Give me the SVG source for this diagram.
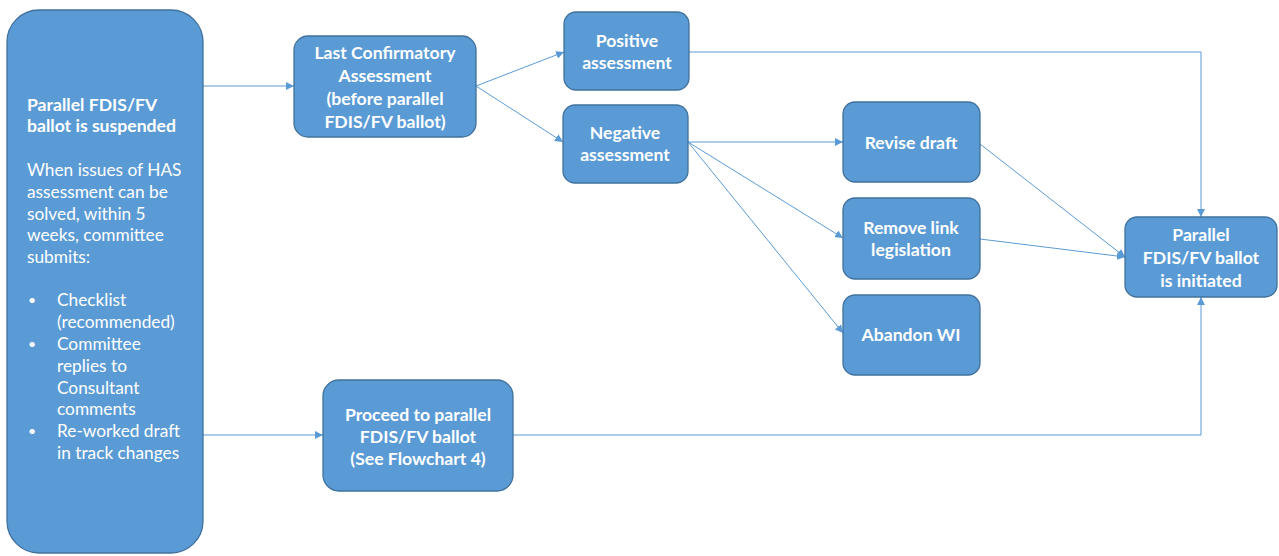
<svg xmlns="http://www.w3.org/2000/svg" width="1279" height="556" viewBox="0 0 1279 556">
<defs>
<style>
.box{fill:#5B9BD5;stroke:#41719C;stroke-width:1.3}
.t{font-family:Lato,"Open Sans","Liberation Sans",sans-serif;font-size:17.3px;fill:#fff}
.b{font-weight:bold;font-size:17.6px}
.c{text-anchor:middle}
.con{fill:none;stroke:#5B9BD5;stroke-width:1}
</style>
<marker id="ah" viewBox="0 0 10 10" refX="10" refY="5" markerWidth="8" markerHeight="8" markerUnits="userSpaceOnUse" orient="auto">
<path d="M0,0 L10,5 L0,10 z" fill="#5B9BD5"/>
</marker>
</defs>
<rect width="1279" height="556" fill="#fff"/>
<g id="connectors">
<path class="con" d="M203,86 L294,86" marker-end="url(#ah)"/>
<path class="con" d="M203,435 L323,435" marker-end="url(#ah)"/>
<path class="con" d="M476,86 L564,52" marker-end="url(#ah)"/>
<path class="con" d="M476,86 L563,142" marker-end="url(#ah)"/>
<path class="con" d="M689,52 L1201,52 L1201,217" marker-end="url(#ah)"/>
<path class="con" d="M688,142 L843,142" marker-end="url(#ah)"/>
<path class="con" d="M688,142 L843,238" marker-end="url(#ah)"/>
<path class="con" d="M688,142 L843,333" marker-end="url(#ah)"/>
<path class="con" d="M980,144 L1125,257" marker-end="url(#ah)"/>
<path class="con" d="M980,239 L1125,257" marker-end="url(#ah)"/>
<path class="con" d="M513,435 L1201,435 L1201,297" marker-end="url(#ah)"/>
</g>
<g id="suspended">
<rect class="box" x="7" y="10" width="196" height="543" rx="32"/>
<text class="t b"><tspan x="27" y="111">Parallel FDIS/FV</tspan><tspan x="27" y="132">ballot is suspended</tspan></text>
<text class="t"><tspan x="27" y="176">When issues of HAS</tspan><tspan x="27" y="198">assessment can be</tspan><tspan x="27" y="220">solved, within 5</tspan><tspan x="27" y="241">weeks, committee</tspan><tspan x="27" y="263">submits:</tspan></text>
<text class="t" style="font-size:14px"><tspan x="28" y="305">•</tspan><tspan x="28" y="349">•</tspan><tspan x="28" y="436">•</tspan></text>
<text class="t"><tspan x="57" y="306">Checklist</tspan><tspan x="57" y="328">(recommended)</tspan><tspan x="57" y="350">Committee</tspan><tspan x="57" y="372">replies to</tspan><tspan x="57" y="394">Consultant</tspan><tspan x="57" y="415">comments</tspan><tspan x="57" y="437">Re-worked draft</tspan><tspan x="57" y="459">in track changes</tspan></text>
</g>
<g id="lastconf">
<rect class="box" x="294" y="36" width="182" height="101" rx="14"/>
<text class="t b c"><tspan x="385" y="59">Last Confirmatory</tspan><tspan x="385" y="82">Assessment</tspan><tspan x="385" y="105">(before parallel</tspan><tspan x="385" y="128">FDIS/FV ballot)</tspan></text>
</g>
<g id="positive">
<rect class="box" x="564" y="12" width="125" height="78" rx="12"/>
<text class="t b c"><tspan x="627" y="47">Positive</tspan><tspan x="627" y="69">assessment</tspan></text>
</g>
<g id="negative">
<rect class="box" x="563" y="105" width="125" height="78" rx="12"/>
<text class="t b c"><tspan x="625" y="139">Negative</tspan><tspan x="625" y="161">assessment</tspan></text>
</g>
<g id="revise">
<rect class="box" x="843" y="102" width="137" height="80" rx="12"/>
<text class="t b c" x="911" y="149">Revise draft</text>
</g>
<g id="removelink">
<rect class="box" x="843" y="198" width="137" height="81" rx="12"/>
<text class="t b c"><tspan x="911" y="234">Remove link</tspan><tspan x="911" y="256">legislation</tspan></text>
</g>
<g id="abandon">
<rect class="box" x="843" y="295" width="137" height="80" rx="12"/>
<text class="t b c" x="911" y="341">Abandon WI</text>
</g>
<g id="initiated">
<rect class="box" x="1125" y="217" width="152" height="80" rx="12"/>
<text class="t b c"><tspan x="1201" y="241">Parallel</tspan><tspan x="1201" y="264">FDIS/FV ballot</tspan><tspan x="1201" y="287">is initiated</tspan></text>
</g>
<g id="proceed">
<rect class="box" x="323" y="380" width="190" height="111" rx="16"/>
<text class="t b c"><tspan x="418" y="421">Proceed to parallel</tspan><tspan x="418" y="443">FDIS/FV ballot</tspan><tspan x="418" y="465">(See Flowchart 4)</tspan></text>
</g>
</svg>
